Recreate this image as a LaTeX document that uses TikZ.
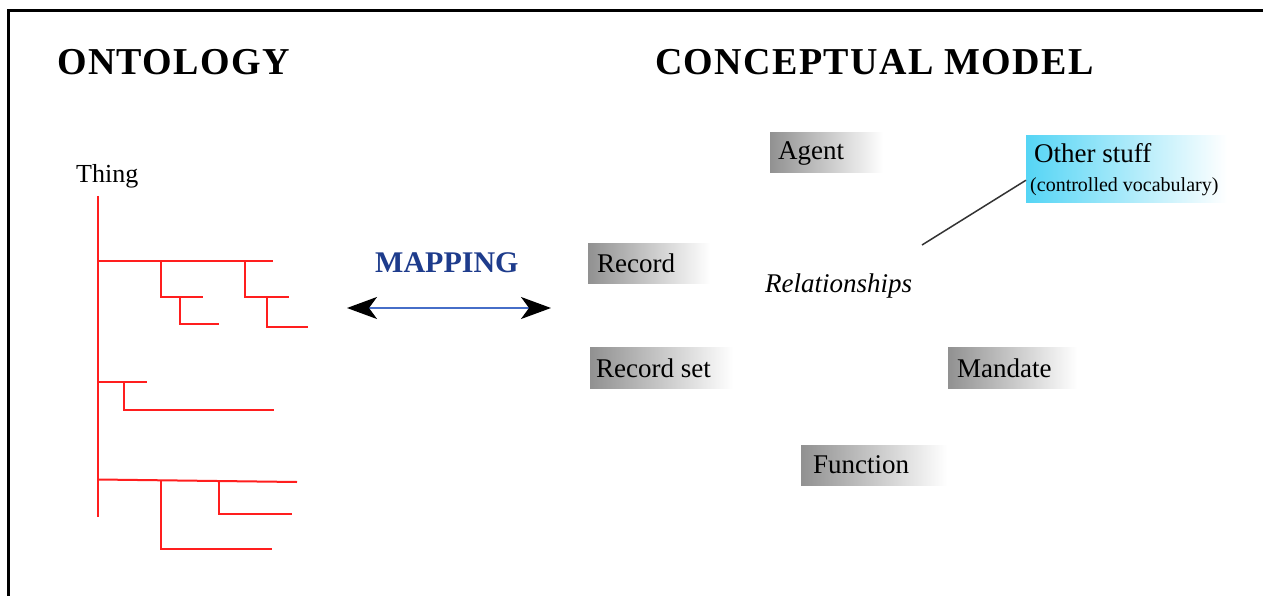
\documentclass[tikz,border=0pt]{standalone}
\usepackage{fontspec}
\setmainfont{Liberation Serif}
\usetikzlibrary{arrows.meta}
\definecolor{mapblue}{RGB}{30,60,140}
\definecolor{arrowblue}{RGB}{70,110,200}
\definecolor{boxgray}{RGB}{145,145,145}
\definecolor{boxcyan}{RGB}{85,213,245}
\definecolor{treered}{RGB}{255,30,30}
\tikzset{
  title/.style={font=\fontsize{38}{40}\selectfont\bfseries\addfontfeature{LetterSpace=3.6}, inner sep=0, anchor=base west},
  txt/.style={font=\fontsize{27}{30}\selectfont, inner sep=0, anchor=base west},
  graybox/.style={inner sep=0, anchor=north west, left color=boxgray, right color=white},
  cyanbox/.style={inner sep=0, anchor=north west, left color=boxcyan, right color=white},
  tree/.style={draw=treered, line width=2pt},
}
\begin{document}
\begin{tikzpicture}[x=1pt,y=-1pt]
\useasboundingbox (0,0) rectangle (1263,596);
\fill[white] (0,0) rectangle (1263,596);
% frame
\draw[line width=2.5pt] (8.7,596) -- (8.7,10.7) -- (1263,10.7);

% titles
\node[title] (ont) at (57,75) {ONTOLOGY};
\node[title] (cm) at (655,75) {CONCEPTUAL MODEL};

% tree
\node[txt, font=\fontsize{26}{28}\selectfont] (thing) at (76,183) {Thing};
\draw[tree] (98,196) -- (98,517);
\draw[tree] (98,261) -- (273,261);
\draw[tree] (160.5,261) -- (160.5,297) -- (203,297);
\draw[tree] (180,297) -- (180,324) -- (219,324);
\draw[tree] (245,261) -- (245,297) -- (289,297);
\draw[tree] (266.5,297) -- (266.5,326.5) -- (308,326.5);
\draw[tree] (98,381.5) -- (147,381.5);
\draw[tree] (124,381.5) -- (124,410) -- (274,410);
\draw[tree] (98,479.5) -- (297,482);
\draw[tree] (160.5,480) -- (160.5,549) -- (272,549);
\draw[tree] (219,481) -- (219,514) -- (292,514);

% mapping
\node[inner sep=0, anchor=base west, font=\fontsize{30}{32}\selectfont\bfseries, text=mapblue] (map) at (375,272) {MAPPING};
\coordinate (mapL) at (347,308);
\coordinate (mapR) at (551,308);
\draw[arrowblue, line width=1.8pt, {Stealth[length=30pt,width=22pt,inset=8pt,black]}-{Stealth[length=30pt,width=22pt,inset=8pt,black]}] (mapL) -- (mapR);

% concept boxes
\node[graybox, minimum width=113, minimum height=40] (agentbox) at (770,132) {};
\node[txt] (agent) at (778,160) {Agent};
\node[graybox, minimum width=122, minimum height=40] (recordbox) at (588,243) {};
\node[txt] (record) at (597,272) {Record};
\node[graybox, minimum width=143, minimum height=41] (rsetbox) at (590,347) {};
\node[txt] (rset) at (596,377) {Record set};
\node[graybox, minimum width=129, minimum height=41] (mandbox) at (948,347) {};
\node[txt] (mandate) at (957,377) {Mandate};
\node[graybox, minimum width=146, minimum height=40] (funcbox) at (801,445) {};
\node[txt] (function) at (813,473) {Function};

\node[cyanbox, minimum width=201, minimum height=67] (otherbox) at (1026,135) {};
\node[txt] (other) at (1034,163) {Other stuff};
\node[txt, font=\fontsize{20}{22}\selectfont] (vocab) at (1030,192) {(controlled vocabulary)};

\node[txt, font=\fontsize{27}{30}\selectfont\itshape] (rel) at (765,292) {Relationships};
\coordinate (relend) at (922,245);
\draw[line width=1.5pt, black!80] (relend) -- ([yshift=-11.5pt]otherbox.west);
\end{tikzpicture}
\end{document}
